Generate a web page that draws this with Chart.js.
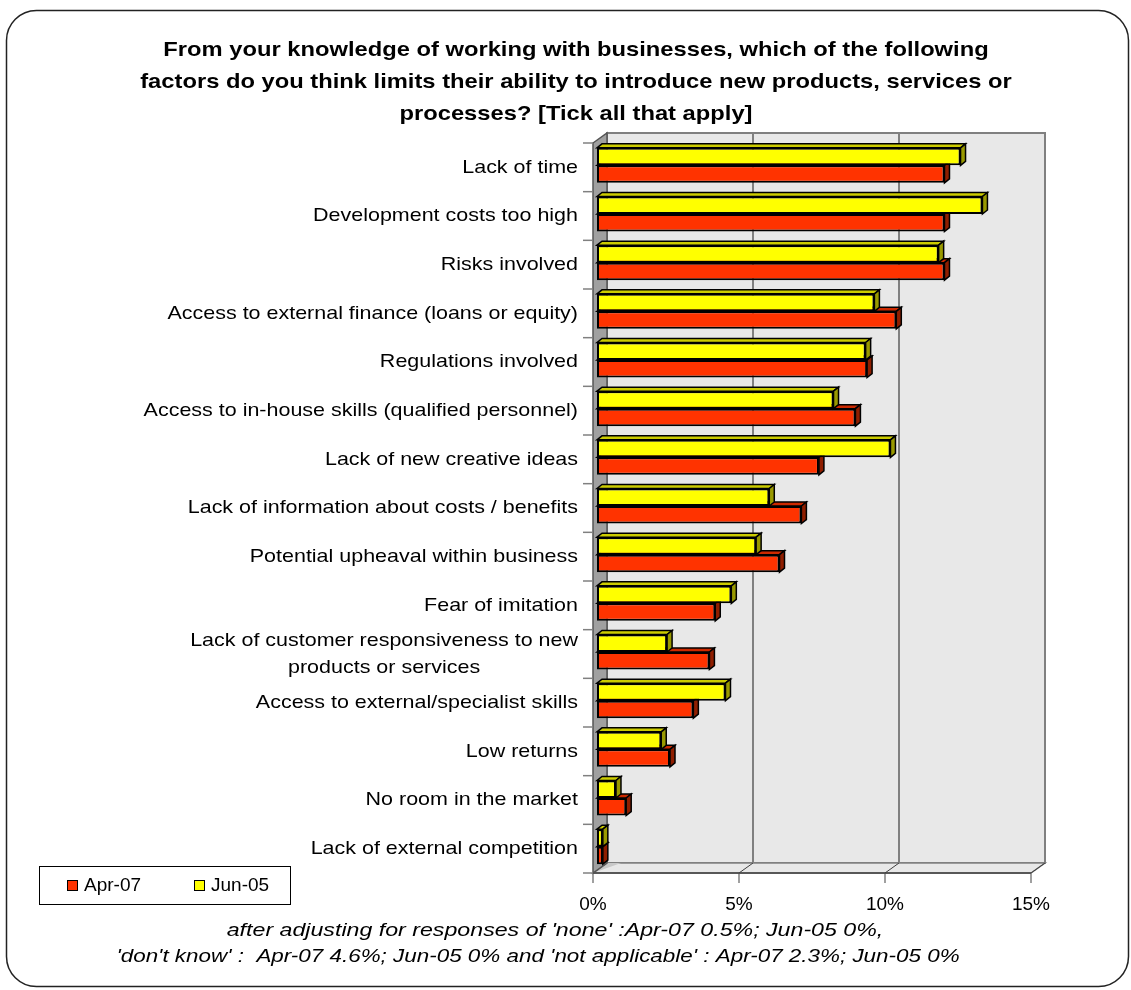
<!DOCTYPE html>
<html>
<head>
<meta charset="utf-8">
<script src="https://cdn.jsdelivr.net/npm/chart.js@4.4.1/dist/chart.umd.min.js"></script>
<style>
  html, body { margin: 0; padding: 0; background: #fff; }
  #wrap { width: 1131px; height: 990px; }
</style>
</head>
<body>
<div id="wrap"><canvas id="chart" width="1131" height="990"></canvas></div>
<script>
// barriers to introducing new products / services / processes (% of respondents)
const CATEGORIES = [
  "Lack of time",
  "Development costs too high",
  "Risks involved",
  "Access to external finance (loans or equity)",
  "Regulations involved",
  "Access to in-house skills (qualified personnel)",
  "Lack of new creative ideas",
  "Lack of information about costs / benefits",
  "Potential upheaval within business",
  "Fear of imitation",
  ["Lack of customer responsiveness to new", "products or services"],
  "Access to external/specialist skills",
  "Low returns",
  "No room in the market",
  "Lack of external competition",
];
const JUN05 = [12.45, 13.2, 11.7, 9.5, 9.2, 8.1, 10.05, 5.9, 5.45, 4.6, 2.4, 4.4, 2.2, 0.65, 0.2];
const APR07 = [11.9, 11.9, 11.9, 10.25, 9.25, 8.85, 7.6, 7.0, 6.25, 4.05, 3.85, 3.3, 2.5, 1.0, 0.2];
const X_TICKS = [0, 5, 10, 15];
const TITLE_LINES = [
  "From your knowledge of working with businesses, which of the following",
  "factors do you think limits their ability to introduce new products, services or",
  "processes? [Tick all that apply]",
];
const NOTE_LINES = [
  "after adjusting for responses of 'none' :Apr-07 0.5%; Jun-05 0%,",
  "'don't know' :  Apr-07 4.6%; Jun-05 0% and 'not applicable' : Apr-07 2.3%; Jun-05 0%",
];
const LEGEND_ORDER = ["Apr-07", "Jun-05"];

const FONT = '"Liberation Sans", Arial, sans-serif';
const SX = 1.13; // the text in this chart is set slightly wide
const COL = {
  wall: "#e8e8e8", side: "#a0a0a0", edge: "#808080", dark: "#404040",
  yellow: "#ffff00", yellowTop: "#cccc00", yellowSide: "#999900",
  red: "#ff3300", redTop: "#cc2900", redSide: "#8f1e00",
};
// pseudo-3D offsets relative to the plane the bars sit in
const FRONT = { dx: -4, dy: 2 };
const BACK = { dx: 10, dy: -8 };
const BAR_D = { dx: 5, dy: 4 };

const poly = (ctx, pts, fill, stroke, lw = 1) => {
  ctx.beginPath();
  pts.forEach(([x, y], i) => (i ? ctx.lineTo(x, y) : ctx.moveTo(x, y)));
  ctx.closePath();
  if (fill) { ctx.fillStyle = fill; ctx.fill(); }
  if (stroke) { ctx.strokeStyle = stroke; ctx.lineWidth = lw; ctx.stroke(); }
};
const line = (ctx, x1, y1, x2, y2, color, lw = 1) => {
  ctx.beginPath(); ctx.moveTo(x1, y1); ctx.lineTo(x2, y2);
  ctx.strokeStyle = color; ctx.lineWidth = lw; ctx.stroke();
};
// text drawn with a horizontal stretch, anchored at its centre
const wideText = (ctx, s, cx, cy, sx = SX) => {
  ctx.save();
  ctx.translate(cx, cy);
  ctx.scale(sx, 1);
  ctx.textAlign = "center";
  ctx.fillText(s, 0, 0);
  ctx.restore();
};

const frame3d = {
  id: "frame3d",
  beforeDraw(chart) {
    const { ctx } = chart;
    ctx.save();
    ctx.fillStyle = "#fff";
    ctx.fillRect(0, 0, chart.width, chart.height);
    ctx.beginPath();
    ctx.roundRect(6.5, 10.5, 1122, 976, 30);
    ctx.strokeStyle = "#222"; ctx.lineWidth = 1.5; ctx.stroke();
    ctx.restore();
  },
  beforeDatasetsDraw(chart) {
    const { ctx, chartArea: a, scales: { x: xs, y: ys } } = chart;
    const fl = a.left + FRONT.dx, fr = a.right + FRONT.dx;
    const ft = a.top + FRONT.dy, fb = a.bottom + FRONT.dy;
    const bl = a.left + BACK.dx, br = a.right + BACK.dx;
    const bt = a.top + BACK.dy, bb = a.bottom + BACK.dy;
    ctx.save();
    // back wall + gridlines
    poly(ctx, [[bl, bt], [br, bt], [br, bb], [bl, bb]], COL.wall, COL.edge, 2);
    X_TICKS.slice(1, -1).forEach((v) => {
      const px = xs.getPixelForValue(v) + BACK.dx;
      line(ctx, px, bt, px, bb, COL.edge, 2);
    });
    // floor
    poly(ctx, [[fl, fb], [bl, bb], [br, bb], [fr, fb]], COL.wall, COL.edge, 1.5);
    poly(ctx, [[fl, fb], [bl, bb], [bl + 14, bb]], "#c8c8c8");
    X_TICKS.forEach((v) => {
      const px = xs.getPixelForValue(v);
      line(ctx, px + FRONT.dx, fb, px + BACK.dx, bb, COL.dark, 1);
      line(ctx, px + FRONT.dx, fb, px + FRONT.dx, fb + 10, COL.edge, 1.5);
    });
    line(ctx, fl, fb, fr, fb, COL.dark, 1.5);
    // left wall
    poly(ctx, [[fl, ft], [bl, bt], [bl, bb], [fl, fb]], COL.side, "#555", 1.5);
    // category tick marks on the front axis
    const step = ys.getPixelForValue(1) - ys.getPixelForValue(0);
    for (let i = 0; i <= CATEGORIES.length; i++) {
      const py = ys.getPixelForValue(i) - step / 2 + FRONT.dy;
      line(ctx, fl - 10, py, fl, py, COL.edge, 1.5);
    }
    // top and side faces of the bars, lower series first
    [1, 0].forEach((di) => {
      const ds = chart.data.datasets[di];
      chart.getDatasetMeta(di).data.forEach((bar) => {
        const { x, y, base, height } = bar.getProps(["x", "y", "base", "height"], true);
        const t = y - height / 2, b = y + height / 2;
        poly(ctx, [[base, t], [base + BAR_D.dx, t - BAR_D.dy], [x + BAR_D.dx, t - BAR_D.dy], [x, t]],
          ds.topColor, "#000", 1.5);
        poly(ctx, [[x, t], [x + BAR_D.dx, t - BAR_D.dy], [x + BAR_D.dx, b - BAR_D.dy], [x, b]],
          ds.sideColor, "#000", 1.5);
      });
    });
    ctx.restore();
  },
  afterDraw(chart) {
    const { ctx, chartArea: a, scales: { y: ys } } = chart;
    ctx.save();
    ctx.fillStyle = "#000";
    ctx.textBaseline = "middle";

    // title
    ctx.font = `bold 21px ${FONT}`;
    TITLE_LINES.forEach((s, j) => wideText(ctx, s, 576, 50 + j * 32));

    // category labels, multi-line ones centred within their block
    ctx.font = `19px ${FONT}`;
    const right = a.left - 19;
    CATEGORIES.forEach((lab, i) => {
      const lines = Array.isArray(lab) ? lab : [lab];
      const w = Math.max(...lines.map((s) => ctx.measureText(s).width)) * SX;
      const cy = ys.getPixelForValue(i) + FRONT.dy;
      lines.forEach((s, j) => wideText(ctx, s, right - w / 2, cy + (j - (lines.length - 1) / 2) * 27));
    });

    // legend box
    ctx.lineWidth = 1;
    ctx.strokeStyle = "#000";
    ctx.strokeRect(39.5, 866.5, 251, 38);
    ctx.font = `19px ${FONT}`;
    ctx.textAlign = "left";
    LEGEND_ORDER.forEach((name, k) => {
      const ds = chart.data.datasets.find((d) => d.label === name);
      const x0 = 67 + k * 127;
      ctx.fillStyle = ds.backgroundColor;
      ctx.fillRect(x0, 880, 10, 10);
      ctx.strokeRect(x0 + 0.5, 880.5, 10, 10);
      ctx.fillStyle = "#000";
      ctx.fillText(name, x0 + 17, 886);
    });

    // footnote
    ctx.font = `italic 19px ${FONT}`;
    wideText(ctx, NOTE_LINES[0], 555, 931, 1.22);
    wideText(ctx, NOTE_LINES[1], 538, 957, 1.18);
    ctx.restore();
  },
};

new Chart(document.getElementById("chart"), {
  type: "bar",
  data: {
    labels: CATEGORIES,
    datasets: [
      {
        label: "Jun-05", data: JUN05,
        backgroundColor: COL.yellow, topColor: COL.yellowTop, sideColor: COL.yellowSide,
        borderColor: "#000", borderWidth: 2, borderSkipped: false,
      },
      {
        label: "Apr-07", data: APR07,
        backgroundColor: COL.red, topColor: COL.redTop, sideColor: COL.redSide,
        borderColor: "#000", borderWidth: 2, borderSkipped: false,
      },
    ],
  },
  options: {
    indexAxis: "y",
    responsive: false,
    devicePixelRatio: 1,
    animation: false,
    layout: { padding: { left: 117, right: 96, top: 141, bottom: 0 } },
    datasets: { bar: { categoryPercentage: 0.72, barPercentage: 1 } },
    plugins: {
      legend: { display: false },
      tooltip: { enabled: false },
    },
    scales: {
      x: {
        min: 0, max: 15,
        afterFit: (s) => { s.height = 119; },
        afterBuildTicks: (s) => { s.ticks = X_TICKS.map((v) => ({ value: v })); },
        grid: { display: false, drawTicks: false },
        border: { display: false },
        ticks: {
          color: "#000", font: { family: FONT, size: 19 }, padding: 22, labelOffset: FRONT.dx,
          maxRotation: 0, callback: (v) => v + "%",
        },
      },
      y: {
        afterFit: (s) => { s.width = 480; },
        grid: { display: false, drawTicks: false },
        border: { display: false },
        ticks: { display: false },
      },
    },
  },
  plugins: [frame3d],
});
</script>
</body>
</html>
